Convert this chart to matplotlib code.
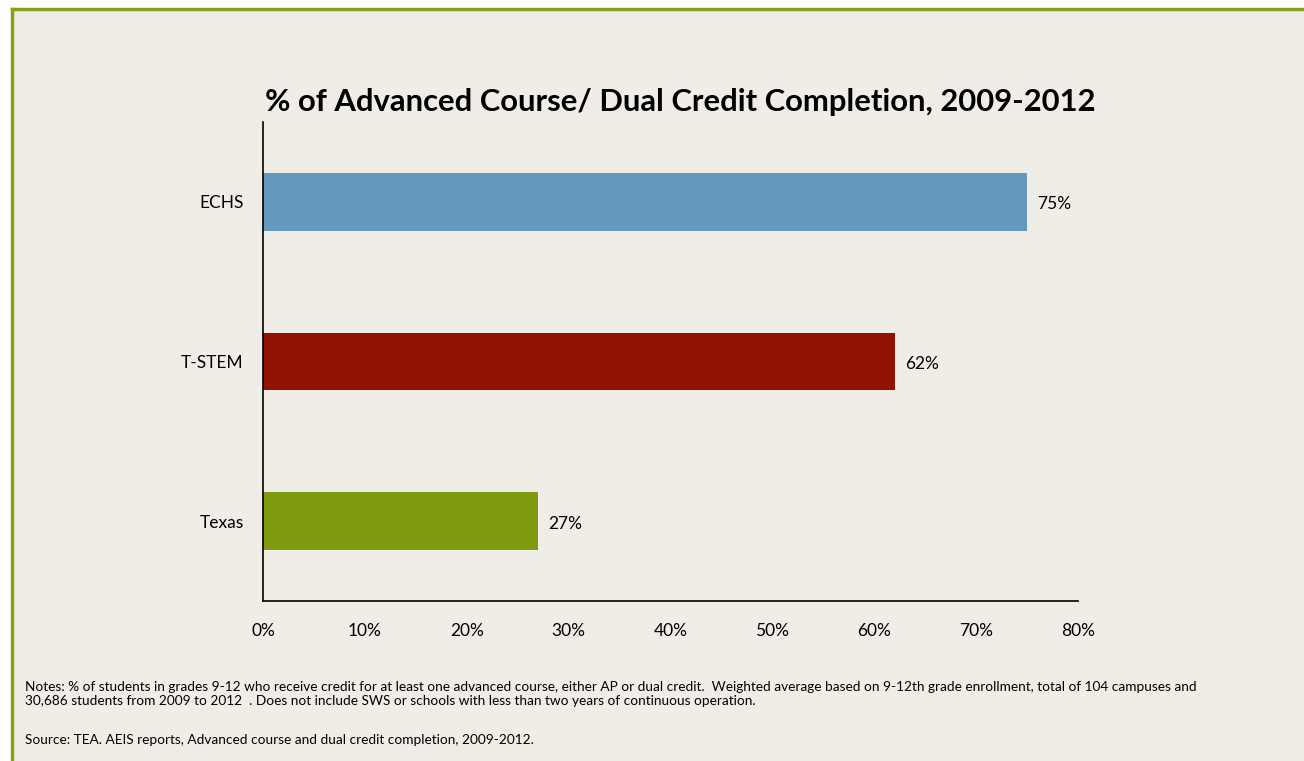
import matplotlib.pyplot as plt
from matplotlib.patches import Rectangle

# completion rates, top to bottom
groups = ['ECHS', 'T-STEM', 'Texas']
pct = [75, 62, 27]
bar_colors = ['#6399bd', '#921100', '#809a0e']
xticks = [0, 10, 20, 30, 40, 50, 60, 70, 80]

title = '% of Advanced Course/ Dual Credit Completion, 2009-2012'
notes = ('Notes: % of students in grades 9-12 who receive credit for at least one advanced course, '
         'either AP or dual credit.  Weighted average based on 9-12th grade enrollment, total of 104 campuses and\n'
         '30,686 students from 2009 to 2012  . Does not include SWS or schools with less than two years of continuous operation.')
source = 'Source: TEA. AEIS reports, Advanced course and dual credit completion, 2009-2012.'

plt.rcParams['font.family'] = ['Lato', 'DejaVu Sans']
bg = '#f0ede6'

fig = plt.figure(figsize=(13.04, 7.61), dpi=100)
fig.patch.set_facecolor('white')
# beige panel with green edge on top and left
fig.patches.append(Rectangle((12 / 1304, 0), 1.0, 1 - 8 / 761, transform=fig.transFigure,
                             facecolor=bg, edgecolor='none', zorder=-2))
fig.add_artist(plt.Line2D([12 / 1304, 1], [1 - 9 / 761] * 2, color='#8a9f1a', lw=2.5, zorder=-1))
fig.add_artist(plt.Line2D([12 / 1304] * 2, [0, 1 - 9 / 761], color='#8a9f1a', lw=2.5, zorder=-1))

ax = fig.add_axes([263 / 1304, 1 - 601 / 761, 815 / 1304, 479 / 761])
ax.set_facecolor(bg)
ypos = list(range(len(groups)))[::-1]
ax.barh(ypos, pct, height=0.36, color=bar_colors, zorder=2)
for y, v in zip(ypos, pct):
    ax.text(v + 1.0, y - 0.015, f'{v}%', va='center', ha='left', fontsize=12.5)

ax.set_xlim(0, 80)
ax.set_ylim(-0.5, 2.5)
ax.set_xticks(xticks)
ax.set_xticklabels([f'{t}%' for t in xticks], fontsize=12.5)
ax.set_yticks(ypos)
ax.set_yticklabels(groups, fontsize=12.5)
ax.tick_params(length=0, pad=14)
ax.tick_params(axis='x', pad=16)
for s in ['top', 'right']:
    ax.spines[s].set_visible(False)
for s in ['left', 'bottom']:
    ax.spines[s].set_linewidth(1.2)

fig.text(680 / 1304, 1 - 102 / 761, title, ha='center', va='center',
         fontsize=22.3, fontweight='bold')
fig.text(25 / 1304, 1 - 694 / 761, notes, ha='left', va='center', fontsize=9.8, linespacing=1.2)
fig.text(25 / 1304, 1 - 740 / 761, source, ha='left', va='center', fontsize=9.8)

fig.savefig('out.png', dpi=100, facecolor=fig.get_facecolor())
